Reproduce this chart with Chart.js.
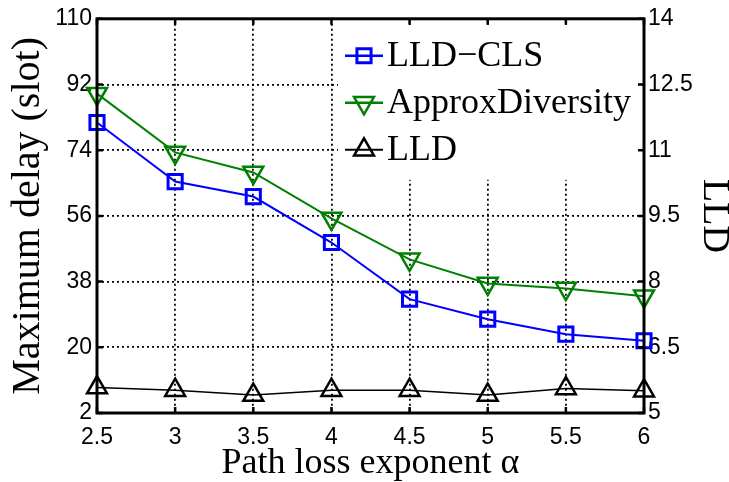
<!DOCTYPE html>
<html>
<head>
<meta charset="utf-8">
<script src="https://cdn.jsdelivr.net/npm/chart.js@4.4.1/dist/chart.umd.min.js"></script>
<style>
  html, body { margin: 0; padding: 0; background: #fff; }
  #c { display: block; }
</style>
</head>
<body>
<canvas id="c" width="729" height="482"></canvas>
<script>
// Path loss exponent values on the x axis
const alpha = [2.5, 3, 3.5, 4, 4.5, 5, 5.5, 6];
// Maximum delay (slot), left axis
const lldCls = [81.6, 65.4, 61.3, 48.7, 33.2, 27.7, 23.6, 21.8];
const approxDiversity = [89.5, 73.4, 67.9, 55.3, 44.1, 37.5, 36.1, 34.0];
// LLD, right axis
const lld = [5.58, 5.52, 5.41, 5.52, 5.52, 5.41, 5.56, 5.51];

// Tick labels
const xTicks = [2.5, 3, 3.5, 4, 4.5, 5, 5.5, 6];
const delayTicks = [2, 20, 38, 56, 74, 92, 110];
const lldTicks = [5, 6.5, 8, 9.5, 11, 12.5, 14];

const seriesNames = ['LLD\u2212CLS', 'ApproxDiversity', 'LLD'];

const toPoints = ys => alpha.map((a, i) => ({ x: a, y: ys[i] }));
const serif = 'Liberation Serif';
const sans = 'Liberation Sans';

// Legend box inside the plot, the solid frame and inward tick marks
const framePlugin = {
  id: 'frame',
  afterDatasetsDraw(chart) {
    const { ctx, chartArea: a, scales } = chart;
    ctx.save();

    // legend
    const lx = a.left + 241, ly = a.top + 6;
    ctx.fillStyle = '#fff';
    ctx.fillRect(lx, ly, a.right - 6 - lx, 155);
    chart.data.datasets.forEach((ds, i) => {
      const y = a.top + 37 + i * 47;
      ctx.strokeStyle = ds.borderColor;
      ctx.lineWidth = ds.borderWidth + 0.5;
      ctx.beginPath();
      ctx.moveTo(lx + 7, y);
      ctx.lineTo(lx + 45, y);
      ctx.stroke();
      ctx.lineWidth = ds.pointBorderWidth;
      ctx.strokeStyle = ds.pointBorderColor;
      ctx.fillStyle = 'rgba(0,0,0,0)';
      Chart.helpers.drawPoint(ctx, {
        pointStyle: ds.pointStyle,
        radius: ds.pointRadius,
        rotation: ds.pointRotation || 0,
        borderWidth: ds.pointBorderWidth
      }, lx + 26, y);
      ctx.fillStyle = '#000';
      ctx.font = '36px "' + serif + '"';
      ctx.textBaseline = 'middle';
      ctx.textAlign = 'left';
      ctx.fillText(ds.label, lx + 49, y + 1);
    });

    // frame
    ctx.strokeStyle = '#000';
    ctx.lineWidth = 3;
    ctx.strokeRect(a.left, a.top, a.right - a.left, a.bottom - a.top);

    // inward ticks
    const len = 6;
    ctx.lineWidth = 2.5;
    ctx.beginPath();
    xTicks.forEach(v => {
      const px = scales.x.getPixelForValue(v);
      ctx.moveTo(px, a.bottom); ctx.lineTo(px, a.bottom - len);
      ctx.moveTo(px, a.top); ctx.lineTo(px, a.top + len);
    });
    delayTicks.forEach(v => {
      const py = scales.y.getPixelForValue(v);
      ctx.moveTo(a.left, py); ctx.lineTo(a.left + len, py);
    });
    lldTicks.forEach(v => {
      const py = scales.y1.getPixelForValue(v);
      ctx.moveTo(a.right, py); ctx.lineTo(a.right - len, py);
    });
    ctx.stroke();
    ctx.restore();
  }
};

new Chart(document.getElementById('c'), {
  type: 'line',
  data: {
    datasets: [
      {
        label: seriesNames[0],
        data: toPoints(lldCls),
        yAxisID: 'y',
        borderColor: 'rgb(0,0,255)',
        borderWidth: 2,
        pointStyle: 'rect',
        pointRadius: 10,
        pointBorderWidth: 3,
        pointBorderColor: 'rgb(0,0,255)',
        pointBackgroundColor: 'rgba(0,0,0,0)',
        clip: false
      },
      {
        label: seriesNames[1],
        data: toPoints(approxDiversity),
        yAxisID: 'y',
        borderColor: 'rgb(0,128,0)',
        borderWidth: 2,
        pointStyle: 'triangle',
        pointRotation: 180,
        pointRadius: 11.5,
        pointBorderWidth: 2.5,
        pointBorderColor: 'rgb(0,128,0)',
        pointBackgroundColor: 'rgba(0,0,0,0)',
        clip: false
      },
      {
        label: seriesNames[2],
        data: toPoints(lld),
        yAxisID: 'y1',
        borderColor: '#000',
        borderWidth: 1.5,
        pointStyle: 'triangle',
        pointRadius: 11.5,
        pointBorderWidth: 2.5,
        pointBorderColor: '#000',
        pointBackgroundColor: 'rgba(0,0,0,0)',
        clip: false
      }
    ]
  },
  options: {
    responsive: false,
    animation: false,
    devicePixelRatio: 1,
    layout: { padding: { top: 18, left: 0, right: 0, bottom: 0 } },
    plugins: { legend: { display: false }, tooltip: { enabled: false } },
    elements: { line: { tension: 0 } },
    scales: {
      x: {
        type: 'linear',
        min: 2.5,
        max: 6,
        afterBuildTicks: s => { s.ticks = xTicks.map(v => ({ value: v })); },
        afterFit: s => { s.height = 69; },
        ticks: {
          autoSkip: false, maxRotation: 0, padding: 11, color: '#000',
          font: { family: sans, size: 23 },
          callback: v => String(v)
        },
        grid: { color: '#000', lineWidth: 1.8, drawTicks: false },
        border: { display: false, dash: [2, 3] },
        title: {
          display: true, text: 'Path loss exponent \u03b1', color: '#000',
          font: { family: serif, size: 36, lineHeight: 1.2 },
          padding: { top: 0, bottom: -3 }
        }
      },
      y: {
        position: 'left',
        min: 2,
        max: 110,
        afterBuildTicks: s => { s.ticks = delayTicks.map(v => ({ value: v })); },
        afterFit: s => { s.width = 97; },
        ticks: {
          padding: 5, color: '#000',
          font: { family: sans, size: 23 },
          callback: v => String(v)
        },
        grid: { color: '#000', lineWidth: 1.8, drawTicks: false },
        border: { display: false, dash: [2, 3] },
        title: {
          display: true, text: 'Maximum delay (slot)', color: '#000',
          font: { family: serif, size: 40, lineHeight: 1.2 },
          padding: { top: 4, bottom: 0 }
        }
      },
      y1: {
        position: 'right',
        min: 5,
        max: 14,
        afterBuildTicks: s => { s.ticks = lldTicks.map(v => ({ value: v })); },
        afterFit: s => { s.width = 85; },
        ticks: {
          padding: 4, color: '#000',
          font: { family: sans, size: 23 },
          callback: v => String(v)
        },
        grid: { display: false, drawTicks: false },
        border: { display: false },
        title: {
          display: true, text: 'LLD', color: '#000',
          font: { family: serif, size: 38, lineHeight: 0.9 },
          padding: { top: -2, bottom: 0 }
        }
      }
    }
  },
  plugins: [framePlugin]
});
</script>
</body>
</html>
